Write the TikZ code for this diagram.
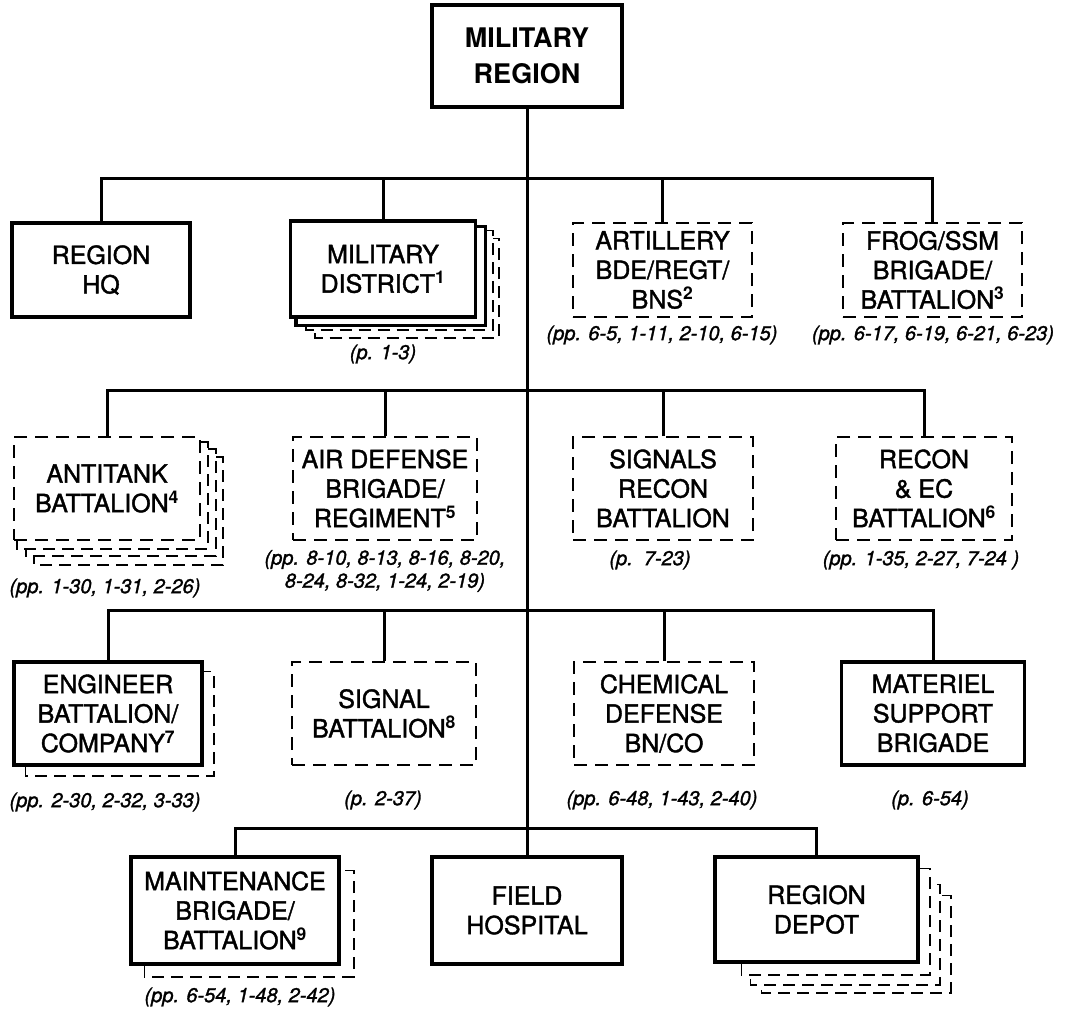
\documentclass[tikz,border=0pt]{standalone}
\usepackage{fontspec}
\setmainfont{TeX Gyre Heros}[UprightFeatures={FakeBold=1.5}, ItalicFeatures={FakeBold=1.5}]
\usetikzlibrary{backgrounds}
\newcommand\supnum[1]{\textsuperscript{\bfseries #1}}
\begin{document}
\begin{tikzpicture}[x=1pt,y=-1pt,
  txt/.style={font=\fontsize{25}{29.5}\selectfont, align=center, inner sep=0pt},
  solidbox/.style={draw, line width=3.2pt, fill=white, txt},
  dashbox/.style={draw, line width=1.8pt, dash pattern=on 13pt off 8pt, fill=white, txt},
  topbox/.style={draw, line width=3.2pt, fill=white, align=center, inner sep=0pt,
     font=\fontsize{27}{36}\selectfont\bfseries},
  pref/.style={font=\fontsize{20}{23}\selectfont\itshape, align=center, inner sep=0pt},
  conn/.style={line width=3pt},
  backsolid/.style={draw, line width=3.2pt, fill=white},
  backdash/.style={draw, line width=1.8pt, dash pattern=on 12pt off 7pt, fill=white}]
\begin{pgfonlayer}{background}
\useasboundingbox (0,0) rectangle (1089,1009);
\end{pgfonlayer}

% top
\node[topbox, minimum width=190pt, minimum height=102pt] (top) at (527,56) {MILITARY\\REGION};

% row 1
\node[solidbox, minimum width=178pt, minimum height=94pt] (hq) at (101,270) {REGION\\HQ};
\node[solidbox, minimum width=185pt, minimum height=96pt] (md) at (383,269) {MILITARY\\DISTRICT\supnum{1}};
\node[dashbox, minimum width=179pt, minimum height=94pt] (art) at (662.5,270) {ARTILLERY\\BDE/REGT/\\BNS\supnum{2}};
\node[dashbox, minimum width=179pt, minimum height=94pt] (frog) at (932.5,270) {FROG/SSM\\BRIGADE/\\BATTALION\supnum{3}};
\node[pref] (mdl) at (383,354) {(p. 1-3)};
\node[pref] (artl) at (662,335) {(pp. 6-5, 1-11, 2-10, 6-15)};
\node[pref] (frogl) at (933,335) {(pp. 6-17, 6-19, 6-21, 6-23)};

% row 2
\node[dashbox, minimum width=186pt, minimum height=103pt] (at) at (107,488.5) {ANTITANK\\BATTALION\supnum{4}};
\node[dashbox, minimum width=184pt, minimum height=103pt] (ad) at (385,488.5) {AIR DEFENSE\\BRIGADE/\\REGIMENT\supnum{5}};
\node[dashbox, minimum width=180pt, minimum height=103pt] (sr) at (663,488.5) {SIGNALS\\RECON\\BATTALION};
\node[dashbox, minimum width=176pt, minimum height=103pt] (rec) at (924,488.5) {RECON\\\&{} EC\\BATTALION\supnum{6}};
\node[pref] (atl) at (105,588) {(pp. 1-30, 1-31, 2-26)};
\node[pref] (adl) at (385,571) {(pp. 8-10, 8-13, 8-16, 8-20,\\8-24, 8-32, 1-24, 2-19)};
\node[pref] (srl) at (650,560) {(p.\ \ 7-23)};
\node[pref] (recl) at (921,560) {(pp. 1-35, 2-27, 7-24 )};

% row 3
\node[solidbox, minimum width=188pt, minimum height=103pt] (eng) at (108,713.5) {ENGINEER\\BATTALION/\\COMPANY\supnum{7}};
\node[dashbox, minimum width=184pt, minimum height=103pt] (sig) at (384,713.5) {SIGNAL\\BATTALION\supnum{8}};
\node[dashbox, minimum width=180pt, minimum height=103pt] (chem) at (664,713.5) {CHEMICAL\\DEFENSE\\BN/CO};
\node[solidbox, minimum width=183pt, minimum height=103pt] (mat) at (933,713.5) {MATERIEL\\SUPPORT\\BRIGADE};
\node[pref] (engl) at (105,802) {(pp. 2-30, 2-32, 3-33)};
\node[pref] (sigl) at (383,800) {(p. 2-37)};
\node[pref] (cheml) at (662,800) {(pp. 6-48, 1-43, 2-40)};
\node[pref] (matl) at (930,800) {(p. 6-54)};

% row 4
\node[solidbox, minimum width=208pt, minimum height=107pt] (mnt) at (235,910.5) {MAINTENANCE\\BRIGADE/\\BATTALION\supnum{9}};
\node[solidbox, minimum width=190pt, minimum height=107pt] (fh) at (527,910.5) {FIELD\\HOSPITAL};
\node[solidbox, minimum width=203pt, minimum height=105pt] (dep) at (816.5,909.5) {REGION\\DEPOT};
\node[pref] (mntl) at (240,997) {(pp. 6-54, 1-48, 2-42)};

% stacked copies behind
\begin{pgfonlayer}{background}
  \draw[backdash] ([shift={(26,19)}]md.north west) rectangle ([shift={(22,19)}]md.south east);
  \draw[backdash] ([shift={(17,11)}]md.north west) rectangle ([shift={(16,11)}]md.south east);
  \draw[backsolid] ([shift={(7,7)}]md.north west) rectangle ([shift={(8,7)}]md.south east);

  \draw[backdash] ([shift={(21,21)}]at.north west) rectangle ([shift={(22,24)}]at.south east);
  \draw[backdash] ([shift={(13,13)}]at.north west) rectangle ([shift={(15,15)}]at.south east);
  \draw[backdash] ([shift={(4,6)}]at.north west) rectangle ([shift={(7,8)}]at.south east);

  \draw[backdash] ([shift={(13,11)}]eng.north west) rectangle ([shift={(10,9)}]eng.south east);

  \draw[backdash] ([shift={(15,15)}]mnt.north west) rectangle ([shift={(13,11)}]mnt.south east);

  \draw[backdash] ([shift={(48,40)}]dep.north west) rectangle ([shift={(31,29)}]dep.south east);
  \draw[backdash] ([shift={(37,29)}]dep.north west) rectangle ([shift={(20,21)}]dep.south east);
  \draw[backdash] ([shift={(28,13)}]dep.north west) rectangle ([shift={(10,11)}]dep.south east);
\end{pgfonlayer}

% buses
\coordinate (b1) at (0,178);
\coordinate (b2) at (0,390);
\coordinate (b3) at (0,610);
\coordinate (b4) at (0,828);

\draw[conn] (top.south) -- (fh.north);

\draw[conn] (hq.north) -- (hq.north |- b1) -- (frog.north |- b1) -- (frog.north);
\draw[conn] (md.north) -- (md.north |- b1);
\draw[conn] (art.north) -- (art.north |- b1);

\draw[conn] (at.north) -- (at.north |- b2) -- (rec.north |- b2) -- (rec.north);
\draw[conn] (ad.north) -- (ad.north |- b2);
\draw[conn] (sr.north) -- (sr.north |- b2);

\draw[conn] (eng.north) -- (eng.north |- b3) -- (mat.north |- b3) -- (mat.north);
\draw[conn] (sig.north) -- (sig.north |- b3);
\draw[conn] (chem.north) -- (chem.north |- b3);

\draw[conn] (mnt.north) -- (mnt.north |- b4) -- (dep.north |- b4) -- (dep.north);
\end{tikzpicture}
\end{document}
